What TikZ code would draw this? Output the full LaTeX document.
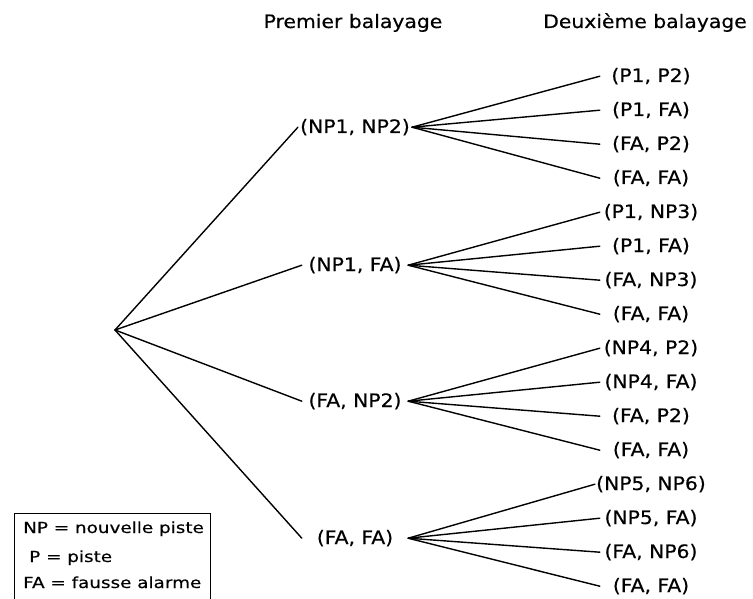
\documentclass[tikz,border=0pt]{standalone}
\usepackage{fontspec}
\setmainfont{DejaVu Sans}[FakeStretch=1.1,FakeBold=0.4]
\newfontfamily\legfont{DejaVu Sans}[FakeStretch=1.2,FakeBold=0.3]
\begin{document}
\begin{tikzpicture}[x=1pt,y=-1pt,
  txt/.style={font=\fontsize{18.5}{22}\selectfont, inner sep=0pt, anchor=base},
  lone/.style={font=\fontsize{18.5}{22}\selectfont, inner xsep=2pt, inner ysep=0pt, minimum width=106pt, anchor=base},
  leaf/.style={font=\fontsize{18.5}{22}\selectfont, inner xsep=1pt, inner ysep=0pt, minimum width=102pt, anchor=base},
  leg/.style={font=\legfont\fontsize{15.3}{18}\selectfont, inner sep=0pt, anchor=base west},
  edge/.style={line width=1.4pt, line cap=round}]
\useasboundingbox (0,0) rectangle (753,599);
% headers
\node[txt] (h1) at (353,28) {Premier balayage};
\node[txt] (h2) at (645,28) {Deuxième balayage};
% root
\coordinate (r) at (115,330);
% first level
\node[lone] (a) at (355,133) {(NP1, NP2)};
\node[lone] (b) at (355,271) {(NP1, FA)};
\node[lone] (c) at (355,407) {(FA, NP2)};
\node[lone] (d) at (355,544) {(FA, FA)};
% leaves
\node[leaf] (a1) at (651,82) {(P1, P2)};
\node[leaf] (a2) at (651,116) {(P1, FA)};
\node[leaf] (a3) at (651,150) {(FA, P2)};
\node[leaf] (a4) at (651,184) {(FA, FA)};
\node[leaf] (b1) at (651,218) {(P1, NP3)};
\node[leaf] (b2) at (651,252) {(P1, FA)};
\node[leaf] (b3) at (651,286) {(FA, NP3)};
\node[leaf] (b4) at (651,320) {(FA, FA)};
\node[leaf] (c1) at (651,354) {(NP4, P2)};
\node[leaf] (c2) at (651,388) {(NP4, FA)};
\node[leaf] (c3) at (651,422) {(FA, P2)};
\node[leaf] (c4) at (651,456) {(FA, FA)};
\node[leaf] (d1) at (651,490) {(NP5, NP6)};
\node[leaf] (d2) at (651,524) {(NP5, FA)};
\node[leaf] (d3) at (651,558) {(FA, NP6)};
\node[leaf] (d4) at (651,592) {(FA, FA)};
% edges
\foreach \n in {a,b,c,d} {
  \draw[edge] (r) -- (\n.west);
  \foreach \i in {1,2,3,4} \draw[edge] (\n.east) -- (\n\i.west);
}
% legend
\draw[line width=1pt] (14,600) -- (14,513) -- (210,513) -- (210,600);
\node[leg] (l1) at (23,533) {NP = nouvelle piste};
\node[leg] (l2) at (29,562) {P = piste};
\node[leg] (l3) at (23,588) {FA = fausse alarme};
\end{tikzpicture}
\end{document}
